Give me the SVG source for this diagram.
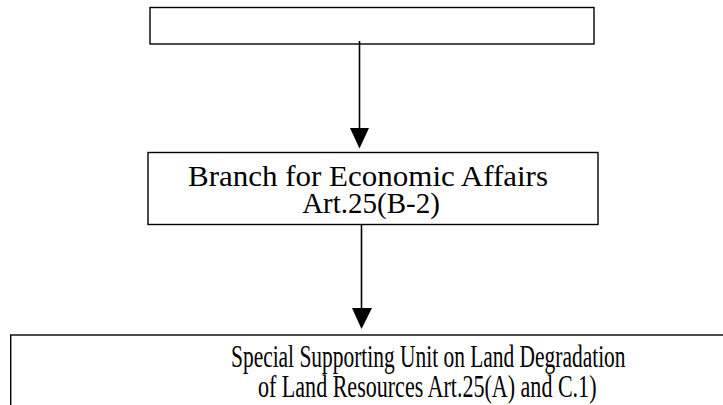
<svg xmlns="http://www.w3.org/2000/svg" width="723" height="405" viewBox="0 0 723 405">
<style>
.box{fill:#fff;stroke:#000;stroke-width:1.4}
.t{font-family:"Liberation Serif","Times New Roman",serif;font-size:29px;fill:#000;text-anchor:middle}
.s{font-family:"Liberation Serif","Times New Roman",serif;font-size:32px;fill:#000;text-anchor:start}
.c{stroke:#000;stroke-width:1.6;fill:none}
.h{fill:#000;stroke:none}
</style>
<rect width="723" height="405" fill="#fff"/>
<g id="node-top">
<rect class="box" x="150" y="7.5" width="444" height="36.5"/>
</g>
<g id="node-branch">
<rect class="box" x="148" y="152.5" width="450" height="72"/>
<text class="t" x="368" y="186" textLength="360" lengthAdjust="spacingAndGlyphs">Branch for Economic Affairs</text>
<text class="t" x="371" y="213">Art.25(B-2)</text>
</g>
<g id="node-unit">
<rect class="box" x="10.7" y="335" width="720" height="80"/>
<text class="s" transform="translate(231,367) scale(0.67,1)">Special Supporting Unit on Land Degradation</text>
<text class="s" transform="translate(258,397) scale(0.689,1)">of Land Resources Art.25(A) and C.1)</text>
</g>
<g id="connectors">
<line class="c" x1="359.5" y1="41" x2="359.5" y2="130"/>
<polygon class="h" points="350,128 369,128 359.5,148.5"/>
<line class="c" x1="361.5" y1="225" x2="361.5" y2="310"/>
<polygon class="h" points="352,308 372,308 361.5,329"/>
</g>
</svg>
